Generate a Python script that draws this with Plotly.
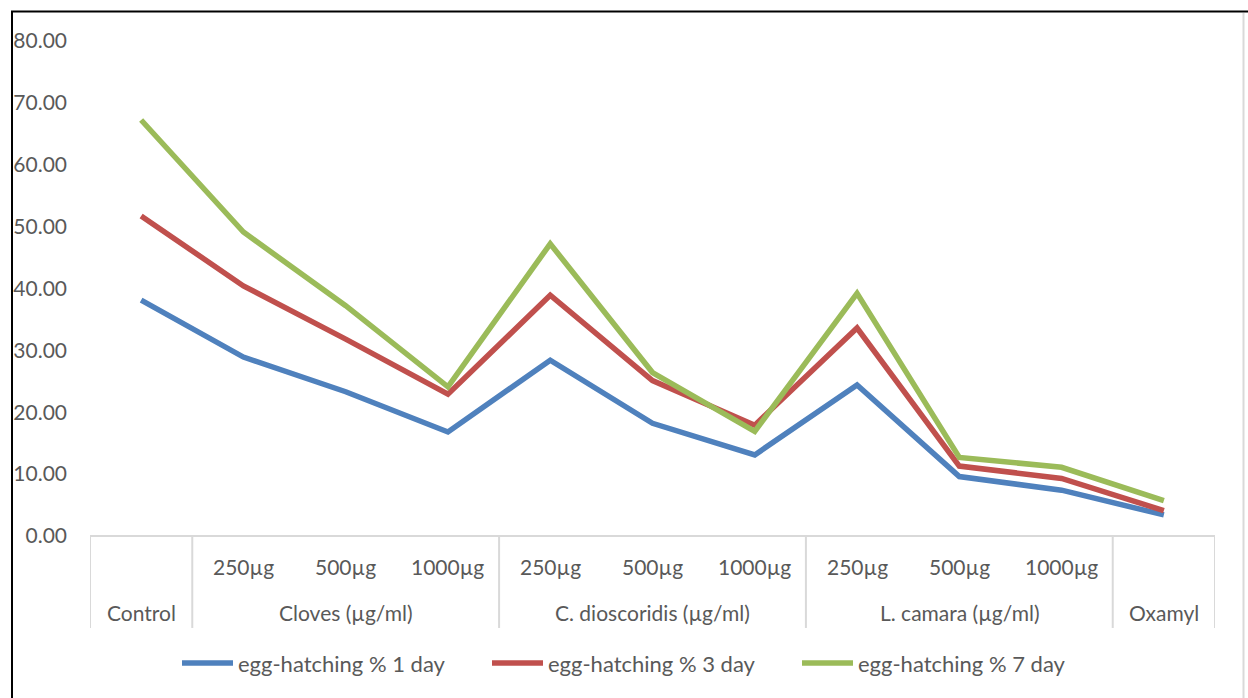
import plotly.graph_objects as go

# Treatment groups and concentrations
groups = ["Control", "Cloves (µg/ml)", "C. dioscoridis (µg/ml)", "L. camara (µg/ml)", "Oxamyl"]
group_sizes = [1, 3, 3, 3, 1]
doses = ["", "250µg", "500µg", "1000µg", "250µg", "500µg", "1000µg",
         "250µg", "500µg", "1000µg", ""]

# Egg-hatching percentages
hatch_1day = [38.1, 28.9, 23.3, 16.8, 28.4, 18.2, 13.1, 24.4, 9.6, 7.4, 3.4]
hatch_3day = [51.7, 40.4, 31.8, 22.9, 38.9, 25.1, 17.9, 33.6, 11.3, 9.3, 4.1]
hatch_7day = [67.2, 49.1, 37.2, 24.1, 47.2, 26.4, 16.9, 39.2, 12.7, 11.1, 5.7]

series = [
    ("egg-hatching % 1 day", hatch_1day, "#4F81BD"),
    ("egg-hatching % 3 day", hatch_3day, "#C0504D"),
    ("egg-hatching % 7 day", hatch_7day, "#9BBB59"),
]

y_ticks = [0, 10, 20, 30, 40, 50, 60, 70, 80]

FONT = "Lato, 'Open Sans', sans-serif"
TEXT_GREY = "#595959"
TABLE_GREY = "#D9D9D9"

W, H = 1248, 698
ML, MR, MT, MB = 90, 33, 25, 0
PW, PH = W - ML - MR, H - MT - MB


def px_x(p):
    return (p - ML) / PW


def px_y(p):
    return (H - MB - p) / PH


x = list(range(len(doses)))
fig = go.Figure()
for name, vals, color in series:
    fig.add_trace(go.Scatter(
        x=x, y=vals, name=name, mode="lines",
        line=dict(color=color, width=5.5, shape="linear"),
        showlegend=False,
    ))

# The lower band of the plot area (below zero) holds the category table and legend
Y_TOP = 82.55
Y_BOTTOM = Y_TOP - PH / 6.19
Y_TABLE = -14.86
Y_INNER = -5.0
Y_OUTER = -12.3

shapes = []
# zero line / top edge of the category table
shapes.append(dict(type="line", xref="x", yref="y", x0=-0.5, x1=len(x) - 0.5,
                   y0=0, y1=0, line=dict(color=TABLE_GREY, width=2), layer="below"))
# group dividers
edges = [-0.5]
for s in group_sizes:
    edges.append(edges[-1] + s)
for e in edges:
    shapes.append(dict(type="line", xref="x", yref="y", x0=e, x1=e,
                       y0=0, y1=Y_TABLE, line=dict(color=TABLE_GREY, width=2), layer="below"))

# outer frame: black on the left and top, light grey on the right
shapes.append(dict(type="line", xref="paper", yref="paper",
                   x0=px_x(12), x1=px_x(12), y0=px_y(11), y1=px_y(700),
                   line=dict(color="black", width=2)))
shapes.append(dict(type="line", xref="paper", yref="paper",
                   x0=px_x(11), x1=px_x(1250), y0=px_y(11.5), y1=px_y(11.5),
                   line=dict(color="black", width=2)))
shapes.append(dict(type="line", xref="paper", yref="paper",
                   x0=px_x(1243.5), x1=px_x(1243.5), y0=px_y(13), y1=px_y(700),
                   line=dict(color="#D9D9D9", width=2)))

annotations = []
for i, d in enumerate(doses):
    if d:
        annotations.append(dict(x=i, y=Y_INNER, xref="x", yref="y", text=d,
                                showarrow=False, font=dict(family=FONT, size=21, color=TEXT_GREY)))
start = 0
for g, s in zip(groups, group_sizes):
    cx = start + (s - 1) / 2
    annotations.append(dict(x=cx, y=Y_OUTER, xref="x", yref="y", text=g,
                            showarrow=False, font=dict(family=FONT, size=21, color=TEXT_GREY)))
    start += s

# legend row: line sample followed by its label
legend_starts = [180, 490, 800]
LEG_Y = px_y(663)
for (name, _, color), lx in zip(series, legend_starts):
    shapes.append(dict(type="line", xref="paper", yref="paper",
                       x0=px_x(lx + 2), x1=px_x(lx + 53), y0=LEG_Y, y1=LEG_Y,
                       line=dict(color=color, width=5.5)))
    annotations.append(dict(x=px_x(lx + 56), y=LEG_Y, xref="paper", yref="paper",
                            xanchor="left", yanchor="middle", text=name, showarrow=False,
                            font=dict(family=FONT, size=22, color=TEXT_GREY)))

fig.update_layout(
    width=W, height=H,
    margin=dict(l=ML, r=MR, t=MT, b=MB),
    paper_bgcolor="white", plot_bgcolor="white",
    font=dict(family=FONT, color=TEXT_GREY),
    xaxis=dict(range=[-0.5, len(x) - 0.5], showgrid=False, zeroline=False,
               showline=False, showticklabels=False, ticks=""),
    yaxis=dict(range=[Y_BOTTOM, Y_TOP], tickvals=y_ticks,
               ticktext=[f"{v:.2f}" for v in y_ticks],
               showgrid=False, zeroline=False, showline=False, ticks="",
               ticklabelstandoff=22,
               tickfont=dict(family=FONT, size=21, color=TEXT_GREY)),
    showlegend=False,
    shapes=shapes,
    annotations=annotations,
)

fig.write_html("out.html")
